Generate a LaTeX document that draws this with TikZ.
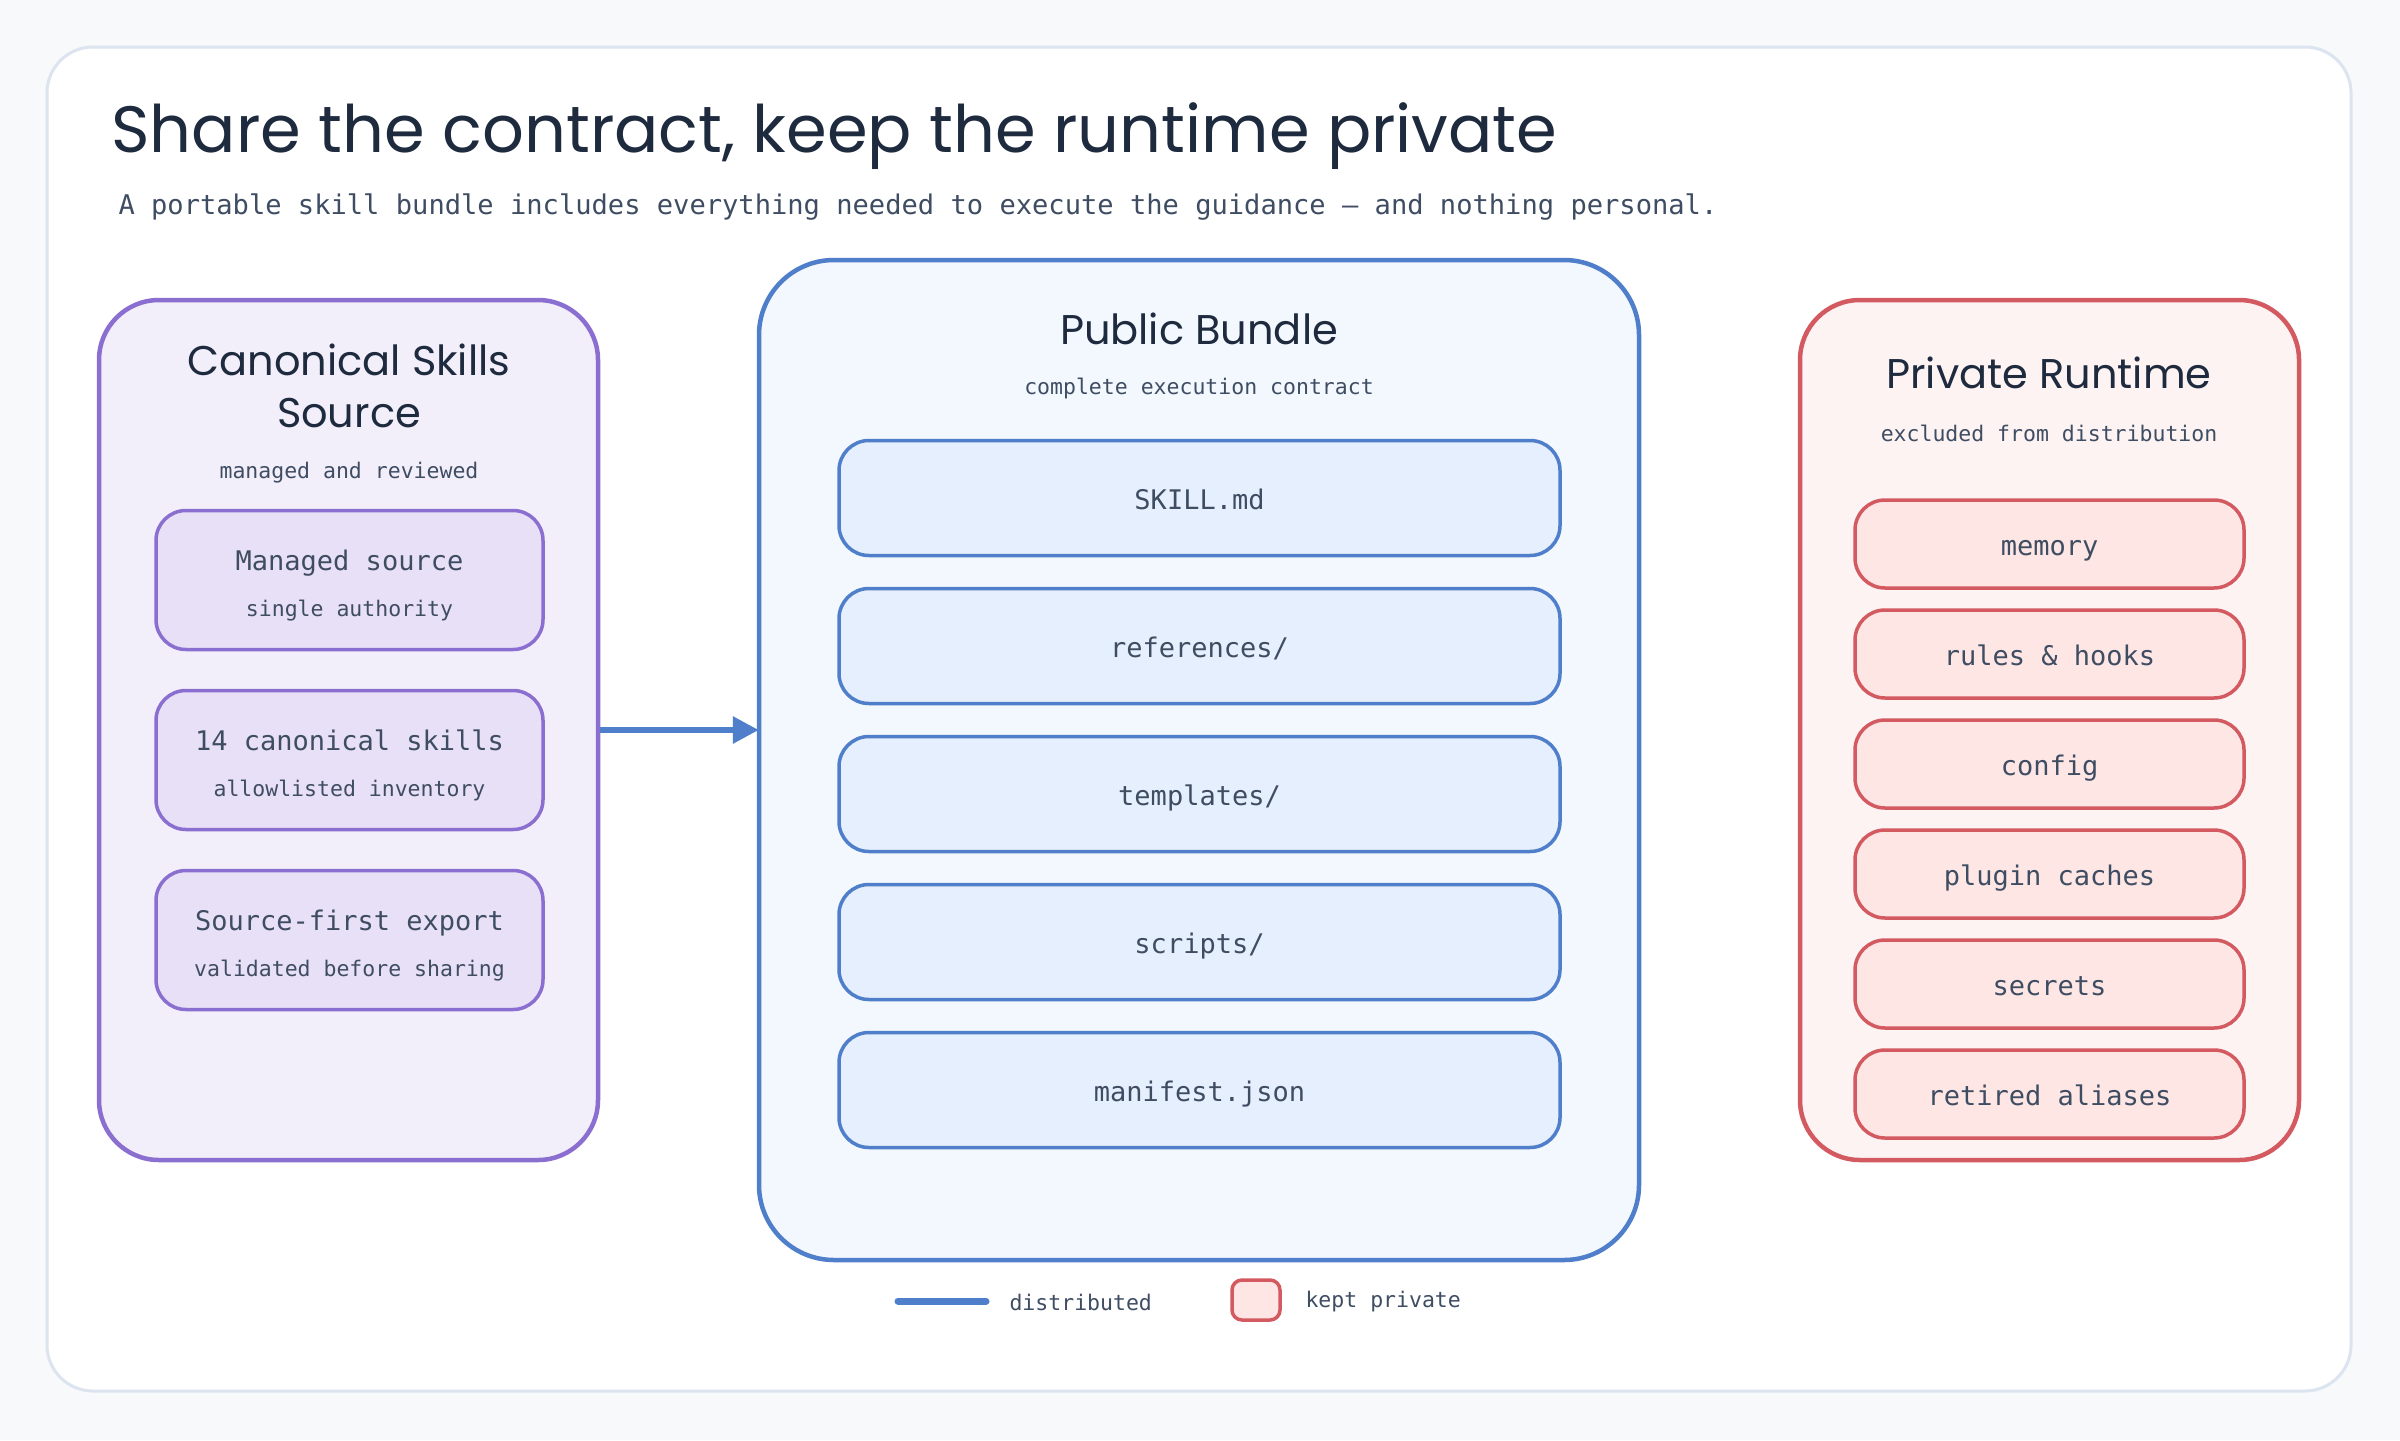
\documentclass[tikz,border=0pt]{standalone}
\usepackage{fontspec}
\usetikzlibrary{arrows.meta}
\newfontfamily\headfont{Poppins}
\newfontfamily\bodyfont{DejaVu Sans Mono}
\definecolor{pagebg}{HTML}{F7F9FB}
\definecolor{cardline}{HTML}{DCE4F0}
\definecolor{ink}{HTML}{1E2A3E}
\definecolor{slate}{HTML}{3F4D63}
\definecolor{purp}{HTML}{8A6FD1}
\definecolor{purpbg}{HTML}{F3EFFA}
\definecolor{purpin}{HTML}{E8E0F7}
\definecolor{blu}{HTML}{4F7ECB}
\definecolor{blubg}{HTML}{F3F7FE}
\definecolor{bluin}{HTML}{E6EFFD}
\definecolor{redd}{HTML}{D45A62}
\definecolor{redbg}{HTML}{FDF3F3}
\definecolor{redin}{HTML}{FDE6E4}
\tikzset{
  panel/.style={rectangle, rounded corners=60pt, line width=4.5pt, inner sep=0pt},
  srcpanel/.style={panel, draw=purp, fill=purpbg, minimum width=499pt, minimum height=860pt},
  pubpanel/.style={panel, draw=blu, fill=blubg, minimum width=880pt, minimum height=1000pt, rounded corners=75pt},
  privpanel/.style={panel, draw=redd, fill=redbg, minimum width=499pt, minimum height=860pt},
  item/.style={rectangle, rounded corners=30pt, line width=3.5pt, inner sep=0pt, text=slate, font=\bodyfont\fontsize{27}{32}\selectfont},
  srcitem/.style={item, draw=purp, fill=purpin, minimum width=387pt, minimum height=139pt, align=center},
  pubitem/.style={item, draw=blu, fill=bluin, minimum width=721pt, minimum height=115pt, text height=23pt, text depth=0pt},
  privitem/.style={item, draw=redd, fill=redin, minimum width=389pt, minimum height=88pt, text height=23pt, text depth=0pt},
  heading/.style={text=ink, font=\headfont\fontsize{41.5}{50}\selectfont, align=center},
  sub/.style={text=slate, font=\bodyfont\fontsize{21.5}{26}\selectfont},
  legtext/.style={text=slate, font=\bodyfont\fontsize{21.5}{26}\selectfont, anchor=west},
}
\begin{document}
\begin{tikzpicture}[x=1pt,y=-1pt]
\useasboundingbox (0,0) rectangle (2400,1440);
\fill[pagebg] (0,0) rectangle (2400,1440);
\draw[cardline, fill=white, line width=3pt, rounded corners=46pt] (47,47) rectangle (2351,1391);

\node[anchor=base west, text=ink, font=\headfont\fontsize{65.5}{78}\selectfont] (title) at (108,152) {Share the contract, keep the runtime private};
\node[anchor=base west, text=slate, font=\bodyfont\fontsize{27.1}{34}\selectfont] (subtitle) at (115,214) {A portable skill bundle includes everything needed to execute the guidance – and nothing personal.};

% left panel
\node[srcpanel] (src) at (348.5,730) {};
\node[heading] (srctitle) at (349,386) {Canonical Skills\\[2pt]Source};
\node[sub] (srcsub) at (349,473) {managed and reviewed};
\node[srcitem] (s1) at (349.5,580) {\rule{0pt}{8pt}\\[-8pt]Managed source\\[14pt]{\fontsize{21.5}{26}\selectfont single authority}};
\node[srcitem] (s2) at (349.5,760) {\rule{0pt}{8pt}\\[-8pt]14 canonical skills\\[14pt]{\fontsize{21.5}{26}\selectfont allowlisted inventory}};
\node[srcitem] (s3) at (349.5,940) {\rule{0pt}{8pt}\\[-8pt]Source-first export\\[14pt]{\fontsize{21.5}{26}\selectfont validated before sharing}};

% center panel
\node[pubpanel] (pub) at (1199,760) {};
\node[heading] (pubtitle) at (1199,329) {Public Bundle};
\node[sub] (pubsub) at (1199,389) {complete execution contract};
\node[pubitem] (p1) at (1199.5,498) {SKILL.md};
\node[pubitem] (p2) at (1199.5,646) {references/};
\node[pubitem] (p3) at (1199.5,794) {templates/};
\node[pubitem] (p4) at (1199.5,942) {scripts/};
\node[pubitem] (p5) at (1199.5,1090) {manifest.json};

% right panel
\node[privpanel] (priv) at (2049.5,730) {};
\node[heading] (privtitle) at (2049,373) {Private Runtime};
\node[sub] (privsub) at (2049,433) {excluded from distribution};
\node[privitem] (r1) at (2049.5,544) {memory};
\node[privitem] (r2) at (2049.5,654) {rules \& hooks};
\node[privitem] (r3) at (2049.5,764) {config};
\node[privitem] (r4) at (2049.5,874) {plugin caches};
\node[privitem] (r5) at (2049.5,984) {secrets};
\node[privitem] (r6) at (2049.5,1094) {retired aliases};

% connector
\draw[blu, line width=6pt, -{Triangle[length=26pt,width=26pt]}, shorten >=-2pt] (src.east) -- (src.east -| pub.west);

% legend
\coordinate (l1) at (898,1301);
\coordinate (l2) at (986,1301);
\draw[blu, line width=7pt, line cap=round] (l1) -- (l2);
\node[legtext] (ldist) at (1006,1302) {distributed};
\node[rectangle, rounded corners=10pt, draw=redd, fill=redin, line width=3.5pt, minimum width=48pt, minimum height=40pt] (lbox) at (1256,1300) {};
\node[legtext] (lpriv) at (1302,1302) {kept private};
\end{tikzpicture}
\end{document}
